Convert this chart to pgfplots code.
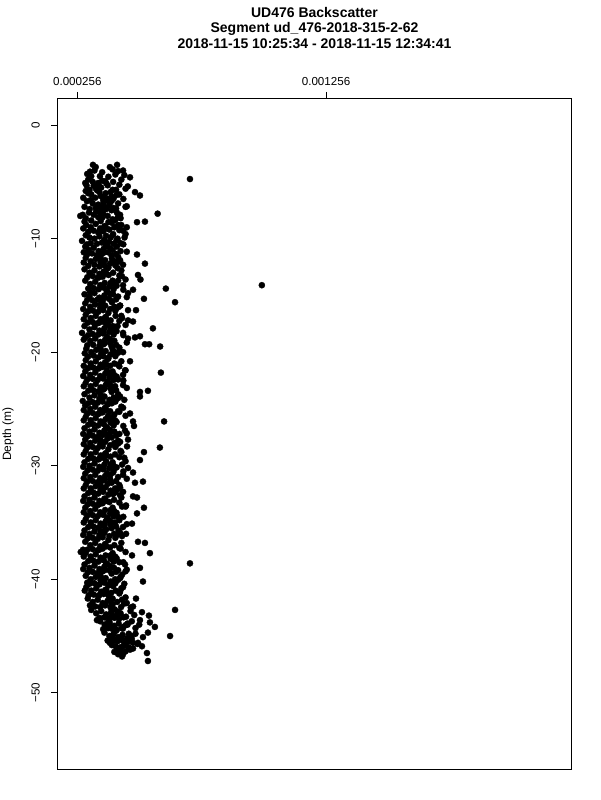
\documentclass[border=0pt]{standalone}
\usepackage{pgfplots}
\pgfplotsset{compat=1.18}
\usepackage{fontspec}
\setmainfont{Liberation Sans}
\begin{document}
\begin{tikzpicture}[x=1pt,y=1pt]
\useasboundingbox (0,0) rectangle (600,800);
\node[font=\fontsize{14}{16}\selectfont\bfseries] at (314.5,787) {UD476 Backscatter};
\node[font=\fontsize{14}{16}\selectfont\bfseries] at (314.5,771.5) {Segment ud\_476-2018-315-2-62};
\node[font=\fontsize{14}{16}\selectfont\bfseries] at (314.5,756) {2018-11-15 10:25:34 - 2018-11-15 12:34:41};
\node[rotate=90,font=\fontsize{12}{14}\selectfont] at (8,366) {Depth (m)};
\begin{axis}[
  at={(58pt,30pt)}, anchor=south west,
  scale only axis, width=513pt, height=671pt,
  xmin=0.0001784, xmax=0.002241,
  ymin=-56.8, ymax=2.3,
  axis line style={line width=1pt},
  every tick/.style={line width=1pt, black},
  tick align=outside,
  major tick length=7pt,
  scaled x ticks=false,
  xtick={0.000256,0.001256},
  xticklabels={0.000256,0.001256},
  xtick pos=right, xticklabel pos=right,
  ytick={-50,-40,-30,-20,-10,0},
  yticklabels={−50,−40,−30,−20,−10,0},
  ytick pos=left,
  ticklabel style={font=\fontsize{11.6}{13}\selectfont, inner sep=0pt},
  xticklabel style={anchor=south},
  yticklabel style={rotate=90, anchor=south},
  xticklabel shift=6pt,
  yticklabel shift=11pt,
  clip=true,
]
\addplot[only marks, mark=*, mark size=3.1pt, mark options={fill=black, draw=black, line width=0.3pt}] table {
x y
0.000319 -3.5
0.000330 -3.7
0.000387 -3.7
0.000398 -3.9
0.000416 -3.5
0.000440 -4.0
0.000445 -4.4
0.000468 -4.6
0.000307 -4.1
0.000312 -4.5
0.000347 -4.5
0.000325 -4.0
0.000296 -4.3
0.000709 -4.75
0.000300 -4.8
0.000318 -5.0
0.000293 -5.3
0.000340 -5.1
0.000356 -4.9
0.000378 -5.3
0.000352 -5.5
0.000459 -5.4
0.000331 -5.6
0.000305 -5.7
0.000400 -5.0
0.000322 -5.35
0.000288 -5.1
0.000290 -5.8
0.000312 -6.1
0.000345 -5.9
0.000370 -6.0
0.000394 -6.3
0.000488 -5.9
0.000508 -6.2
0.000280 -6.4
0.000328 -6.4
0.000360 -6.6
0.000412 -5.7
0.000300 -6.0
0.000380 -6.5
0.000336 -5.75
0.000350 -6.25
0.000425 -6.1
0.000295 -6.7
0.000318 -6.9
0.000340 -7.0
0.000362 -6.8
0.000384 -7.1
0.000402 -7.3
0.000285 -7.2
0.000306 -7.4
0.000330 -7.3
0.000352 -7.5
0.000372 -7.4
0.000420 -6.9
0.000450 -7.2
0.000310 -6.6
0.000345 -7.15
0.000395 -6.65
0.000278 -7.9
0.000268 -8.0
0.000290 -8.2
0.000303 -7.7
0.000322 -7.9
0.000340 -8.1
0.000360 -7.8
0.000378 -8.0
0.000398 -8.3
0.000415 -7.7
0.000430 -8.2
0.000579 -7.8
0.000528 -8.5
0.000496 -8.55
0.000312 -8.4
0.000350 -8.45
0.000332 -7.6
0.000285 -8.5
0.000292 -8.8
0.000310 -9.0
0.000330 -8.7
0.000348 -9.1
0.000365 -8.9
0.000385 -9.2
0.000405 -9.0
0.000420 -8.8
0.000300 -9.4
0.000322 -9.3
0.000340 -9.45
0.000360 -9.35
0.000280 -9.1
0.000440 -9.3
0.000395 -8.6
0.000455 -9.0
0.000275 -10.2
0.000290 -9.7
0.000305 -9.9
0.000325 -10.0
0.000345 -9.8
0.000365 -10.1
0.000384 -10.3
0.000400 -9.6
0.000418 -10.0
0.000310 -10.4
0.000335 -10.45
0.000355 -10.35
0.000295 -10.5
0.000430 -10.4
0.000372 -9.75
0.000446 -9.9
0.000288 -10.7
0.000302 -11.0
0.000322 -10.8
0.000342 -11.1
0.000362 -10.9
0.000380 -11.2
0.000398 -11.0
0.000415 -10.7
0.000295 -11.4
0.000315 -11.3
0.000335 -11.45
0.000355 -11.35
0.000496 -11.4
0.000430 -11.1
0.000372 -10.6
0.000282 -11.2
0.000290 -11.7
0.000310 -12.0
0.000330 -11.8
0.000350 -12.1
0.000368 -11.9
0.000388 -12.2
0.000405 -12.0
0.000420 -11.6
0.000528 -12.2
0.000300 -12.4
0.000325 -12.3
0.000345 -12.45
0.000365 -12.35
0.000440 -12.3
0.000282 -12.1
0.000395 -11.75
0.000285 -12.7
0.000305 -13.0
0.000325 -12.8
0.000345 -13.1
0.000362 -12.9
0.000382 -13.2
0.000400 -13.0
0.000418 -12.6
0.000500 -13.2
0.000296 -13.4
0.000318 -13.3
0.000338 -13.45
0.000358 -13.35
0.000435 -13.3
0.000376 -12.65
0.000510 -13.6
0.000998 -14.1
0.000612 -14.4
0.000288 -13.7
0.000308 -14.0
0.000328 -13.8
0.000348 -14.1
0.000366 -13.9
0.000386 -14.2
0.000404 -14.0
0.000420 -13.7
0.000480 -14.5
0.000300 -14.4
0.000322 -14.35
0.000342 -14.45
0.000362 -14.3
0.000440 -14.1
0.000307 -14.7
0.000649 -15.6
0.000460 -14.8
0.000285 -14.9
0.000305 -15.1
0.000325 -14.8
0.000345 -15.2
0.000365 -15.0
0.000384 -15.3
0.000400 -14.9
0.000524 -15.3
0.000296 -15.4
0.000318 -15.45
0.000338 -15.35
0.000358 -15.5
0.000420 -15.1
0.000375 -14.65
0.000288 -15.7
0.000308 -16.0
0.000328 -15.8
0.000348 -16.1
0.000368 -15.9
0.000388 -16.2
0.000428 -15.9
0.000460 -16.3
0.000492 -16.3
0.000300 -16.4
0.000320 -16.35
0.000340 -16.45
0.000360 -16.3
0.000405 -16.0
0.000280 -16.2
0.000395 -15.6
0.000290 -16.7
0.000310 -17.0
0.000330 -16.8
0.000350 -17.1
0.000370 -16.9
0.000390 -17.2
0.000436 -17.0
0.000460 -17.2
0.000480 -17.3
0.000298 -17.4
0.000318 -17.35
0.000338 -17.45
0.000358 -17.3
0.000410 -16.8
0.000282 -17.1
0.000372 -17.5
0.000560 -17.9
0.000285 -17.7
0.000305 -18.0
0.000325 -17.8
0.000345 -18.1
0.000365 -17.9
0.000385 -18.2
0.000402 -18.0
0.000418 -17.7
0.000275 -18.3
0.000318 -18.4
0.000340 -18.45
0.000360 -18.35
0.000300 -18.5
0.000440 -18.3
0.000380 -17.6
0.000460 -18.8
0.000488 -18.7
0.000508 -18.6
0.000528 -19.3
0.000545 -19.3
0.000589 -19.5
0.000288 -18.7
0.000308 -19.0
0.000328 -18.8
0.000348 -19.1
0.000368 -18.9
0.000388 -19.2
0.000405 -19.0
0.000296 -19.4
0.000320 -19.35
0.000345 -19.45
0.000362 -19.3
0.000282 -18.9
0.000292 -19.7
0.000312 -20.0
0.000332 -19.8
0.000352 -20.1
0.000370 -19.9
0.000390 -20.2
0.000408 -20.0
0.000425 -19.6
0.000299 -20.4
0.000322 -20.3
0.000342 -20.45
0.000360 -20.35
0.000380 -20.5
0.000440 -20.0
0.000286 -20.1
0.000398 -19.75
0.000468 -20.8
0.000290 -20.7
0.000310 -21.0
0.000330 -20.8
0.000350 -21.1
0.000368 -20.9
0.000388 -21.2
0.000405 -21.0
0.000448 -21.6
0.000300 -21.4
0.000320 -21.35
0.000340 -21.45
0.000358 -21.3
0.000420 -21.1
0.000282 -21.2
0.000378 -20.6
0.000592 -21.8
0.000288 -21.7
0.000308 -22.0
0.000328 -21.8
0.000348 -22.1
0.000368 -21.9
0.000386 -22.2
0.000404 -22.0
0.000440 -22.0
0.000296 -22.4
0.000318 -22.35
0.000338 -22.45
0.000358 -22.3
0.000420 -22.4
0.000280 -22.1
0.000375 -21.6
0.000440 -22.9
0.000508 -23.5
0.000540 -23.4
0.000290 -22.7
0.000310 -23.0
0.000330 -22.8
0.000350 -23.1
0.000370 -22.9
0.000390 -23.2
0.000408 -23.0
0.000300 -23.4
0.000320 -23.35
0.000340 -23.45
0.000360 -23.3
0.000282 -23.0
0.000380 -22.6
0.000508 -23.9
0.000445 -24.2
0.000285 -23.7
0.000305 -24.0
0.000325 -23.8
0.000345 -24.1
0.000365 -23.9
0.000385 -24.2
0.000402 -24.0
0.000420 -23.7
0.000278 -24.3
0.000318 -24.4
0.000338 -24.45
0.000358 -24.35
0.000300 -24.5
0.000395 -24.5
0.000468 -25.4
0.000288 -24.7
0.000308 -25.0
0.000328 -24.8
0.000348 -25.1
0.000368 -24.9
0.000388 -25.2
0.000420 -25.2
0.000296 -25.4
0.000318 -25.35
0.000338 -25.45
0.000358 -25.3
0.000440 -24.9
0.000282 -25.1
0.000378 -24.6
0.000405 -25.5
0.000605 -26.1
0.000480 -26.1
0.000484 -26.5
0.000290 -25.7
0.000310 -26.0
0.000330 -25.8
0.000350 -26.1
0.000370 -25.9
0.000390 -26.2
0.000408 -26.0
0.000300 -26.4
0.000320 -26.35
0.000340 -26.45
0.000360 -26.3
0.000282 -26.0
0.000380 -25.6
0.000285 -26.7
0.000305 -27.0
0.000325 -26.8
0.000345 -27.1
0.000365 -26.9
0.000385 -27.2
0.000405 -27.0
0.000448 -26.9
0.000460 -27.7
0.000298 -27.4
0.000318 -27.35
0.000338 -27.45
0.000358 -27.3
0.000425 -27.2
0.000280 -27.2
0.000372 -26.6
0.000588 -28.4
0.000456 -28.3
0.000288 -27.7
0.000308 -28.0
0.000328 -27.8
0.000348 -28.1
0.000368 -27.9
0.000388 -28.2
0.000405 -28.0
0.000296 -28.4
0.000318 -28.35
0.000338 -28.45
0.000358 -28.3
0.000420 -27.8
0.000282 -28.1
0.000378 -27.6
0.000524 -28.8
0.000508 -29.5
0.000290 -28.7
0.000310 -29.0
0.000330 -28.8
0.000350 -29.1
0.000370 -28.9
0.000390 -29.2
0.000408 -29.0
0.000430 -28.7
0.000300 -29.4
0.000320 -29.35
0.000340 -29.45
0.000360 -29.3
0.000282 -29.0
0.000445 -29.3
0.000460 -30.2
0.000480 -30.6
0.000285 -29.7
0.000305 -30.0
0.000325 -29.8
0.000345 -30.1
0.000365 -29.9
0.000385 -30.2
0.000402 -30.0
0.000436 -29.9
0.000298 -30.4
0.000318 -30.35
0.000338 -30.45
0.000358 -30.3
0.000280 -30.1
0.000372 -29.6
0.000488 -31.5
0.000520 -31.4
0.000288 -30.7
0.000308 -31.0
0.000328 -30.8
0.000348 -31.1
0.000368 -30.9
0.000388 -31.2
0.000420 -31.0
0.000296 -31.4
0.000318 -31.35
0.000338 -31.45
0.000358 -31.3
0.000440 -30.8
0.000282 -31.1
0.000400 -30.6
0.000290 -31.7
0.000310 -32.0
0.000330 -31.8
0.000350 -32.1
0.000370 -31.9
0.000390 -32.2
0.000408 -32.0
0.000425 -31.7
0.000300 -32.4
0.000320 -32.35
0.000340 -32.45
0.000360 -32.3
0.000282 -32.0
0.000440 -32.3
0.000378 -31.6
0.000400 -32.5
0.000480 -32.7
0.000496 -32.8
0.000285 -32.7
0.000305 -33.0
0.000325 -32.8
0.000345 -33.1
0.000365 -32.9
0.000385 -33.2
0.000404 -33.0
0.000428 -32.6
0.000298 -33.4
0.000318 -33.35
0.000338 -33.45
0.000358 -33.3
0.000280 -33.1
0.000452 -33.5
0.000524 -33.7
0.000496 -34.2
0.000288 -33.7
0.000308 -34.0
0.000328 -33.8
0.000348 -34.1
0.000368 -33.9
0.000388 -34.2
0.000405 -34.0
0.000436 -33.6
0.000296 -34.4
0.000318 -34.35
0.000338 -34.45
0.000358 -34.3
0.000282 -34.1
0.000420 -34.5
0.000476 -35.1
0.000290 -34.7
0.000310 -35.0
0.000330 -34.8
0.000350 -35.1
0.000370 -34.9
0.000390 -35.2
0.000408 -35.0
0.000440 -35.4
0.000300 -35.4
0.000320 -35.35
0.000340 -35.45
0.000360 -35.3
0.000282 -35.0
0.000378 -34.6
0.000425 -34.8
0.000285 -35.7
0.000305 -36.0
0.000325 -35.8
0.000345 -36.1
0.000365 -35.9
0.000385 -36.2
0.000404 -36.0
0.000422 -35.7
0.000298 -36.4
0.000318 -36.35
0.000338 -36.45
0.000358 -36.3
0.000436 -36.2
0.000280 -36.1
0.000372 -35.6
0.000452 -36.0
0.000500 -36.7
0.000528 -36.8
0.000548 -37.7
0.000279 -37.4
0.000288 -36.7
0.000308 -37.0
0.000328 -36.8
0.000348 -37.1
0.000368 -36.9
0.000388 -37.2
0.000405 -37.0
0.000296 -37.4
0.000318 -37.35
0.000338 -37.45
0.000358 -37.3
0.000430 -37.3
0.000270 -37.6
0.000709 -38.6
0.000476 -37.9
0.000448 -38.7
0.000508 -39.0
0.000290 -37.7
0.000310 -38.0
0.000330 -37.8
0.000350 -38.1
0.000370 -37.9
0.000390 -38.2
0.000408 -38.0
0.000300 -38.4
0.000320 -38.35
0.000340 -38.45
0.000360 -38.3
0.000282 -38.0
0.000425 -38.5
0.000285 -38.7
0.000305 -39.0
0.000325 -38.8
0.000345 -39.1
0.000365 -38.9
0.000385 -39.2
0.000404 -39.0
0.000420 -39.2
0.000436 -39.6
0.000298 -39.4
0.000318 -39.35
0.000338 -39.45
0.000358 -39.3
0.000280 -39.1
0.000372 -38.6
0.000450 -39.3
0.000520 -40.2
0.000296 -40.3
0.000290 -39.7
0.000310 -40.0
0.000330 -39.8
0.000350 -40.1
0.000370 -39.9
0.000390 -40.2
0.000408 -40.0
0.000430 -39.8
0.000305 -40.4
0.000325 -40.35
0.000345 -40.45
0.000365 -40.3
0.000385 -40.5
0.000445 -40.4
0.000292 -40.7
0.000312 -41.0
0.000332 -40.8
0.000352 -41.1
0.000372 -40.9
0.000392 -41.2
0.000410 -41.0
0.000428 -41.1
0.000302 -41.4
0.000322 -41.35
0.000342 -41.45
0.000362 -41.3
0.000382 -41.45
0.000440 -40.7
0.000286 -41.0
0.000400 -40.6
0.000492 -41.7
0.000307 -42.3
0.000480 -42.4
0.000298 -41.7
0.000318 -42.0
0.000338 -41.8
0.000358 -42.1
0.000378 -41.9
0.000398 -42.2
0.000416 -42.0
0.000436 -41.8
0.000328 -42.4
0.000348 -42.45
0.000368 -42.3
0.000390 -42.5
0.000455 -42.1
0.000649 -42.7
0.000516 -42.9
0.000544 -43.2
0.000508 -43.6
0.000335 -43.6
0.000312 -42.7
0.000332 -43.0
0.000352 -42.8
0.000372 -43.1
0.000392 -42.9
0.000412 -43.2
0.000430 -43.0
0.000452 -43.3
0.000345 -43.4
0.000365 -43.35
0.000385 -43.45
0.000405 -43.4
0.000470 -42.8
0.000548 -43.8
0.000568 -44.2
0.000380 -44.3
0.000348 -43.7
0.000366 -44.0
0.000386 -43.8
0.000404 -44.1
0.000422 -43.9
0.000440 -44.2
0.000458 -44.0
0.000475 -43.7
0.000490 -44.3
0.000360 -44.4
0.000395 -44.35
0.000415 -44.45
0.000435 -44.3
0.000505 -44.0
0.000540 -44.7
0.000520 -45.1
0.000629 -45.0
0.000387 -45.6
0.000500 -45.6
0.000365 -44.7
0.000385 -45.0
0.000402 -44.8
0.000420 -45.1
0.000438 -44.9
0.000456 -45.2
0.000474 -45.0
0.000490 -44.8
0.000378 -45.4
0.000398 -45.35
0.000418 -45.45
0.000438 -45.4
0.000460 -45.5
0.000416 -46.2
0.000480 -46.1
0.000516 -45.9
0.000536 -46.5
0.000395 -45.8
0.000410 -45.9
0.000428 -46.0
0.000445 -45.8
0.000462 -46.0
0.000430 -46.3
0.000450 -46.35
0.000468 -46.2
0.000405 -46.4
0.000498 -45.7
0.000436 -46.8
0.000540 -47.2
0.000440 -46.6
0.000420 -46.6
};
\addplot[only marks, mark=*, mark size=3.1pt, mark options={fill=black, draw=black, line width=0.3pt}] table {
x y
0.000356 -4.15
0.000381 -4.55
0.000409 -4.35
0.000433 -4.80
0.000420 -4.05
0.000368 -4.95
0.000344 -5.40
0.000372 -5.10
0.000398 -5.70
0.000425 -5.25
0.000450 -5.60
0.000390 -5.90
0.000362 -6.30
0.000388 -6.85
0.000414 -6.15
0.000441 -6.50
0.000376 -6.65
0.000402 -6.45
0.000350 -7.75
0.000366 -7.20
0.000394 -7.50
0.000428 -7.90
0.000412 -7.35
0.000455 -7.15
0.000356 -8.15
0.000381 -8.55
0.000409 -8.35
0.000433 -8.80
0.000420 -8.05
0.000368 -8.95
0.000344 -9.40
0.000372 -9.10
0.000398 -9.70
0.000425 -9.25
0.000450 -9.60
0.000390 -9.90
0.000362 -10.30
0.000388 -10.85
0.000414 -10.15
0.000441 -10.50
0.000376 -10.65
0.000402 -10.45
0.000350 -11.75
0.000366 -11.20
0.000394 -11.50
0.000428 -11.90
0.000412 -11.35
0.000455 -11.15
0.000356 -12.15
0.000381 -12.55
0.000409 -12.35
0.000433 -12.80
0.000420 -12.05
0.000368 -12.95
0.000344 -13.40
0.000372 -13.10
0.000398 -13.70
0.000425 -13.25
0.000450 -13.60
0.000390 -13.90
0.000362 -14.30
0.000388 -14.85
0.000414 -14.15
0.000441 -14.50
0.000376 -14.65
0.000402 -14.45
0.000350 -15.75
0.000366 -15.20
0.000394 -15.50
0.000428 -15.90
0.000412 -15.35
0.000455 -15.15
0.000356 -16.15
0.000381 -16.55
0.000409 -16.35
0.000433 -16.80
0.000420 -16.05
0.000368 -16.95
0.000344 -17.40
0.000372 -17.10
0.000398 -17.70
0.000425 -17.25
0.000450 -17.60
0.000390 -17.90
0.000362 -18.30
0.000388 -18.85
0.000414 -18.15
0.000441 -18.50
0.000376 -18.65
0.000402 -18.45
0.000350 -19.75
0.000366 -19.20
0.000394 -19.50
0.000428 -19.90
0.000412 -19.35
0.000455 -19.15
0.000356 -20.15
0.000381 -20.55
0.000409 -20.35
0.000433 -20.80
0.000420 -20.05
0.000368 -20.95
0.000344 -21.40
0.000372 -21.10
0.000398 -21.70
0.000425 -21.25
0.000450 -21.60
0.000390 -21.90
0.000362 -22.30
0.000388 -22.85
0.000414 -22.15
0.000441 -22.50
0.000376 -22.65
0.000402 -22.45
0.000350 -23.75
0.000366 -23.20
0.000394 -23.50
0.000428 -23.90
0.000412 -23.35
0.000455 -23.15
0.000356 -24.15
0.000381 -24.55
0.000409 -24.35
0.000433 -24.80
0.000420 -24.05
0.000368 -24.95
0.000344 -25.40
0.000372 -25.10
0.000398 -25.70
0.000425 -25.25
0.000450 -25.60
0.000390 -25.90
0.000362 -26.30
0.000388 -26.85
0.000414 -26.15
0.000441 -26.50
0.000376 -26.65
0.000402 -26.45
0.000350 -27.75
0.000366 -27.20
0.000394 -27.50
0.000428 -27.90
0.000412 -27.35
0.000455 -27.15
0.000356 -28.15
0.000381 -28.55
0.000409 -28.35
0.000433 -28.80
0.000420 -28.05
0.000368 -28.95
0.000344 -29.40
0.000372 -29.10
0.000398 -29.70
0.000425 -29.25
0.000450 -29.60
0.000390 -29.90
0.000362 -30.30
0.000388 -30.85
0.000414 -30.15
0.000441 -30.50
0.000376 -30.65
0.000402 -30.45
0.000350 -31.75
0.000366 -31.20
0.000394 -31.50
0.000428 -31.90
0.000412 -31.35
0.000455 -31.15
0.000356 -32.15
0.000381 -32.55
0.000409 -32.35
0.000433 -32.80
0.000420 -32.05
0.000368 -32.95
0.000344 -33.40
0.000372 -33.10
0.000398 -33.70
0.000425 -33.25
0.000450 -33.60
0.000390 -33.90
0.000362 -34.30
0.000388 -34.85
0.000414 -34.15
0.000441 -34.50
0.000376 -34.65
0.000402 -34.45
0.000350 -35.75
0.000366 -35.20
0.000394 -35.50
0.000428 -35.90
0.000412 -35.35
0.000455 -35.15
0.000356 -36.15
0.000381 -36.55
0.000409 -36.35
0.000433 -36.80
0.000420 -36.05
0.000368 -36.95
0.000344 -37.40
0.000372 -37.10
0.000398 -37.70
0.000425 -37.25
0.000450 -37.60
0.000390 -37.90
0.000362 -38.30
0.000388 -38.85
0.000414 -38.15
0.000441 -38.50
0.000376 -38.65
0.000402 -38.45
0.000350 -39.75
0.000366 -39.20
0.000394 -39.50
0.000428 -39.90
0.000412 -39.35
0.000455 -39.15
0.000356 -40.15
0.000381 -40.55
0.000409 -40.35
0.000433 -40.80
0.000420 -40.05
0.000368 -40.95
0.000344 -41.40
0.000372 -41.10
0.000398 -41.70
0.000425 -41.25
0.000450 -41.60
0.000390 -41.90
0.000392 -42.30
0.000418 -42.85
0.000444 -42.15
0.000471 -42.50
0.000406 -42.65
0.000432 -42.45
0.000380 -43.75
0.000396 -43.20
0.000424 -43.50
0.000458 -43.90
0.000442 -43.35
0.000485 -43.15
0.000386 -44.15
0.000411 -44.55
0.000439 -44.35
0.000463 -44.80
0.000450 -44.05
0.000398 -44.95
0.000404 -45.40
0.000432 -45.10
0.000448 -45.70
0.000475 -45.25
0.000480 -45.60
0.000440 -45.90
};
\end{axis}
\end{tikzpicture}
\end{document}
